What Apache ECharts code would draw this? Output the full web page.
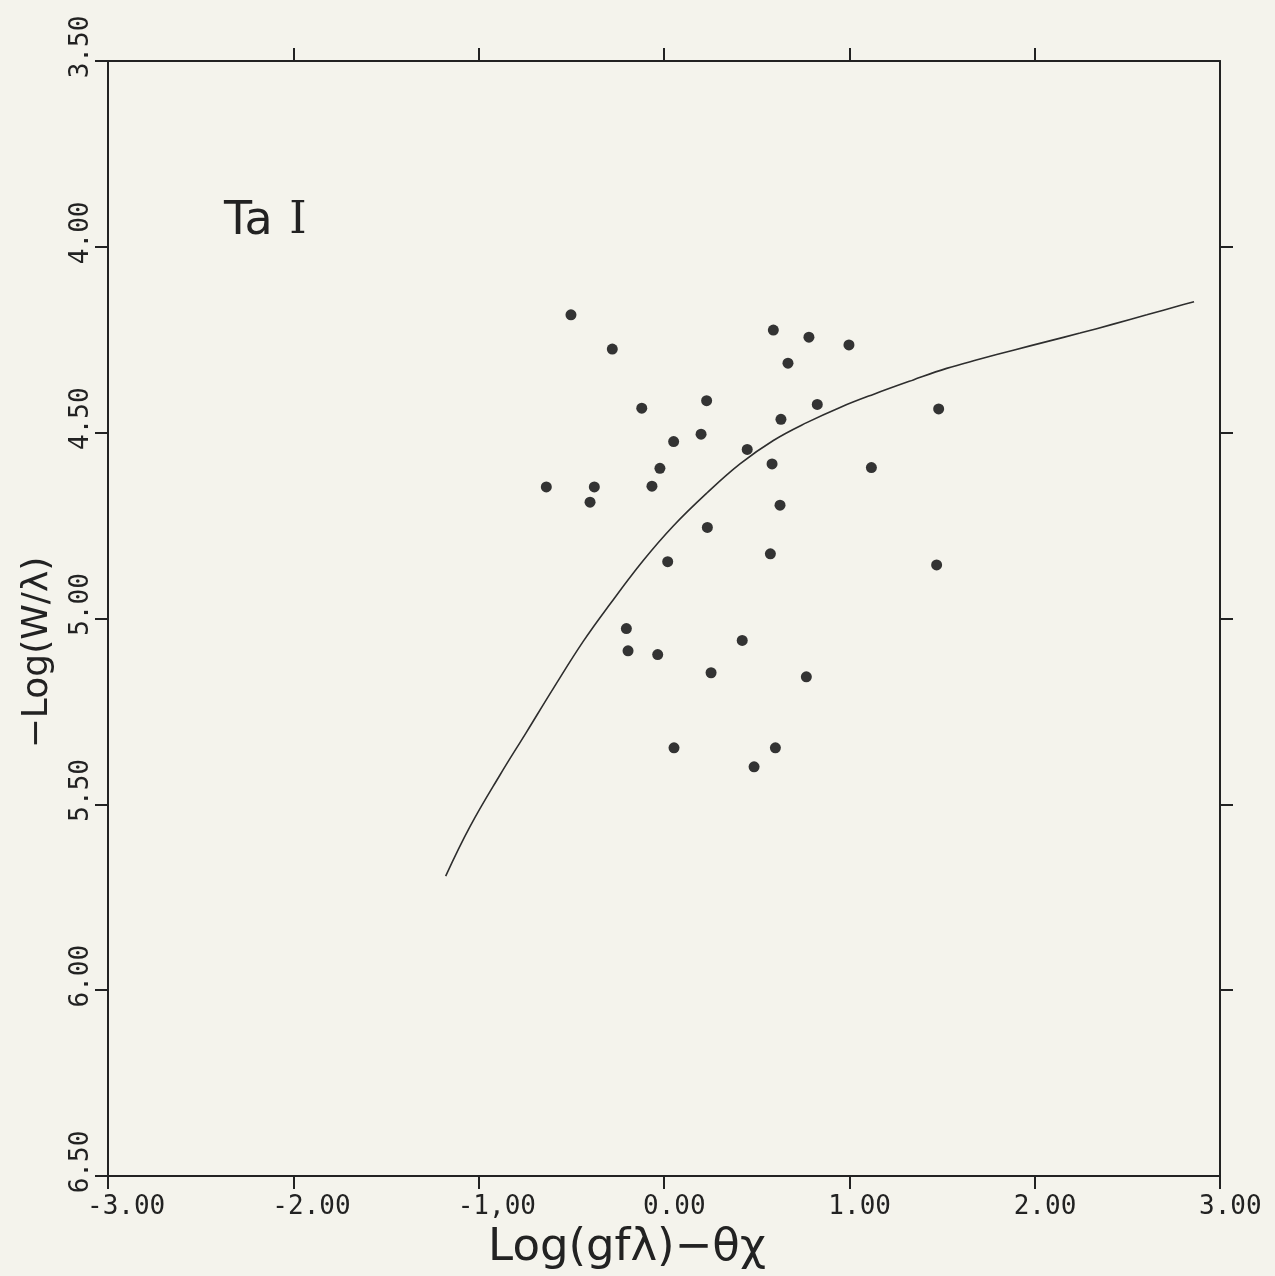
<!DOCTYPE html>
<html><head><meta charset="utf-8">
<script src="https://cdn.jsdelivr.net/npm/echarts@6/dist/echarts.min.js"></script>
<style>html,body{margin:0;padding:0;background:#f4f3ec}#c{width:1275px;height:1276px}</style>
</head><body><div id="c"></div>
<script>
// Tick labels
const xTickLabels = ['-3.00', '-2.00', '-1,00', '0.00', '1.00', '2.00', '3.00'];
const yTickLabels = ['3.50', '4.00', '4.50', '5.00', '5.50', '6.00', '6.50'];

// Observed lines: log(gf lambda) - theta chi  vs  -log(W/lambda)
const pointsX = [-0.502, -0.279, 0.590, 0.782, 0.998, 0.669, -0.120, 0.230, 0.827, 0.631,
  0.200, 0.052, 0.449, -0.022, 0.583, 1.119, -0.635, -0.376, -0.065, -0.399,
  0.626, 0.234, 0.020, 0.574, 1.482, 1.471, -0.203, -0.194, -0.034, 0.422,
  0.254, 0.768, 0.054, 0.601, 0.486];
const pointsY = [4.183, 4.275, 4.224, 4.243, 4.264, 4.313, 4.434, 4.414, 4.424, 4.464,
  4.504, 4.524, 4.545, 4.596, 4.584, 4.594, 4.646, 4.646, 4.644, 4.687,
  4.695, 4.755, 4.847, 4.826, 4.436, 4.856, 5.027, 5.087, 5.097, 5.059,
  5.146, 5.157, 5.348, 5.348, 5.399];

// Theoretical curve of growth
const curveX = [-1.178, -1.047, -0.885, -0.741, -0.597, -0.435, -0.291, -0.112, 0.050, 0.230,
  0.410, 0.590, 0.770, 0.950, 1.129, 1.345, 1.525, 1.705, 1.885, 2.065,
  2.245, 2.424, 2.605, 2.784, 2.860];
const curveY = [5.693, 5.560, 5.421, 5.305, 5.188, 5.061, 4.961, 4.844, 4.751, 4.663,
  4.584, 4.521, 4.473, 4.432, 4.397, 4.358, 4.327, 4.302, 4.278, 4.255,
  4.232, 4.208, 4.183, 4.158, 4.148];

// Tick positions on the top and right frame edges
const topTicks = [-2, -1, 0, 1, 2];
const rightTicks = [4.0, 4.5, 5.0, 5.5, 6.0];

const ink = '#222222';
const chart = echarts.init(document.getElementById('c'), null, {renderer: 'canvas'});

const xLabelFmt = v => xTickLabels[Math.round(v + 3)] ?? '';
const yLabelFmt = v => yTickLabels[Math.round((v - 3.5) * 2)] ?? '';

const lineStyle = {color: ink, width: 2};
const tickStyle = {color: ink, width: 2};

chart.setOption({
  backgroundColor: '#f4f3ec',
  animation: false,
  title: {
    text: 'Ta {r|I}',
    left: 224, top: 199, padding: 0,
    textStyle: {
      fontFamily: 'DejaVu Sans', fontSize: 46, fontWeight: 'normal', color: ink,
      rich: {r: {fontFamily: 'DejaVu Serif', fontSize: 44, color: ink, padding: [0, 0, 0, 2]}}
    }
  },
  grid: {left: 108, right: 55, top: 61, bottom: 100, containLabel: false, outerBoundsMode: 'none'},
  xAxis: [{
    type: 'value', min: -3, max: 3, interval: 1, position: 'bottom',
    axisLine: {show: true, onZero: false, lineStyle},
    axisTick: {show: true, inside: false, length: 13, lineStyle: tickStyle},
    splitLine: {show: false},
    axisLabel: {
      formatter: xLabelFmt, margin: 18, align: 'left', padding: [0, 0, 0, -21],
      fontFamily: 'DejaVu Sans Mono', fontSize: 26, color: ink
    },
    name: 'Log(gfλ)−θχ', nameLocation: 'middle', nameGap: 50,
    nameTextStyle: {fontFamily: 'DejaVu Sans', fontSize: 45, color: ink, padding: [0, 74, 0, 0]}
  }, {
    type: 'value', min: -3, max: 3, interval: 1, position: 'top',
    axisLine: {show: true, onZero: false, lineStyle},
    axisTick: {show: true, inside: false, length: 13, lineStyle: tickStyle, customValues: topTicks},
    axisLabel: {show: false}, splitLine: {show: false}
  }],
  yAxis: [{
    type: 'value', min: 3.5, max: 6.5, interval: 0.5, inverse: true, position: 'left',
    axisLine: {show: true, onZero: false, lineStyle},
    axisTick: {show: true, inside: false, length: 13, lineStyle: tickStyle},
    splitLine: {show: false},
    axisLabel: {
      formatter: yLabelFmt, rotate: 90, margin: 14, align: 'center', padding: [0, 0, 0, 28],
      fontFamily: 'DejaVu Sans Mono', fontSize: 26, color: ink
    },
    name: '−Log(W/λ)', nameLocation: 'middle', nameGap: 52,
    nameTextStyle: {fontFamily: 'DejaVu Sans', fontSize: 36, color: ink, padding: [0, 68, 0, 0]}
  }, {
    type: 'value', min: 3.5, max: 6.5, interval: 0.5, inverse: true, position: 'right',
    axisLine: {show: true, onZero: false, lineStyle},
    axisTick: {show: true, inside: false, length: 13, lineStyle: tickStyle, customValues: rightTicks},
    axisLabel: {show: false}, splitLine: {show: false}
  }],
  series: [{
    type: 'line', xAxisIndex: 0, yAxisIndex: 0,
    data: curveX.map((x, i) => [x, curveY[i]]),
    smooth: 0.4, symbol: 'none',
    lineStyle: {color: '#2e2e2e', width: 1.6}
  }, {
    type: 'scatter', xAxisIndex: 0, yAxisIndex: 0,
    data: pointsX.map((x, i) => [x, pointsY[i]]),
    symbol: 'circle', symbolSize: 11,
    itemStyle: {color: '#333333', opacity: 1}
  }]
});
</script>
</body></html>
